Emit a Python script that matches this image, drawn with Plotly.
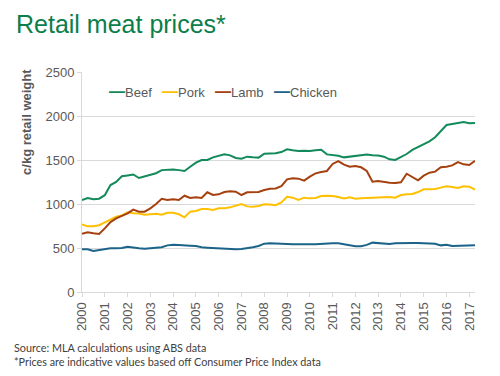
import plotly.graph_objects as go

# Quarterly observations, 2000 Q1 .. 2017 Q2
quarters = [2000 + i / 4 for i in range(70)]

beef = [1045, 1068, 1055, 1060, 1100, 1215, 1250, 1315, 1325, 1335, 1295, 1312,
        1325, 1350, 1385, 1390, 1392, 1385, 1375, 1424, 1470, 1500, 1500, 1530,
        1545, 1564, 1553, 1523, 1515, 1538, 1530, 1527, 1572, 1572, 1576, 1590,
        1621, 1610, 1602, 1606, 1602, 1610, 1617, 1564, 1557, 1549, 1530, 1538,
        1553, 1553, 1561, 1553, 1551, 1538, 1508, 1500, 1530, 1568, 1614, 1648,
        1678, 1712, 1758, 1822, 1898, 1909, 1924, 1932, 1917, 1920]

pork = [769, 746, 746, 759, 792, 826, 856, 871, 905, 894, 893, 879,
        883, 890, 879, 901, 901, 883, 849, 913, 920, 943, 943, 932,
        951, 951, 962, 985, 1000, 973, 970, 977, 996, 993, 987, 1018,
        1083, 1072, 1045, 1072, 1064, 1068, 1091, 1094, 1091, 1079, 1064, 1076,
        1060, 1064, 1068, 1072, 1080, 1080, 1080, 1072, 1102, 1110, 1114, 1136,
        1167, 1167, 1170, 1186, 1201, 1193, 1182, 1201, 1197, 1163]

lamb = [663, 678, 667, 659, 723, 795, 837, 863, 894, 936, 913, 913,
        951, 1000, 1060, 1045, 1053, 1045, 1094, 1068, 1076, 1068, 1133, 1102,
        1110, 1136, 1144, 1140, 1102, 1133, 1133, 1136, 1159, 1174, 1176, 1204,
        1280, 1292, 1288, 1265, 1311, 1348, 1363, 1375, 1455, 1488, 1447, 1424,
        1432, 1417, 1375, 1253, 1261, 1250, 1242, 1239, 1246, 1344, 1311, 1269,
        1322, 1356, 1368, 1417, 1424, 1439, 1477, 1451, 1443, 1492]

chicken = [485, 485, 466, 477, 492, 496, 496, 500, 515, 504, 496, 492,
           500, 504, 508, 530, 538, 534, 526, 526, 523, 508, 504, 500,
           496, 496, 485, 485, 489, 496, 508, 523, 549, 553, 549, 549,
           544, 542, 544, 540, 544, 544, 549, 553, 553, 553, 544, 535,
           519, 519, 535, 561, 558, 553, 545, 553, 557, 557, 557, 557,
           557, 553, 549, 530, 538, 523, 526, 530, 534, 530]

series_names = ["Beef", "Pork", "Lamb", "Chicken"]
series_values = [beef, pork, lamb, chicken]
series_colors = ["#138A5A", "#FFC000", "#A5400F", "#1C6389"]

year_ticks = list(range(2000, 2018))
year_labels = [str(y) for y in year_ticks]
y_ticks = [0, 500, 1000, 1500, 2000, 2500]

fig = go.Figure()
for name, vals, col in zip(series_names, series_values, series_colors):
    fig.add_trace(go.Scatter(x=quarters, y=vals, mode="lines", name=name,
                             line=dict(color=col, width=2), showlegend=False))

grey = "#595959"

# compact legend row (line swatch + label), laid out like the original
legend_x = [0.0635, 0.198, 0.333, 0.483]
annotations = []
for name, col, lx in zip(series_names, series_colors, legend_x):
    annotations.append(dict(
        text=f"<span style='color:{col};font-size:16px'><b>—</b></span>{name}",
        xref="paper", yref="paper", x=lx, y=0.911, xanchor="left", yanchor="middle",
        showarrow=False, font=dict(size=13, color=grey)))

annotations += [
    dict(text="<b>c/kg retail weight</b>", textangle=-90, xref="paper", yref="paper",
         x=-0.14, y=0.773, xanchor="center", yanchor="middle", showarrow=False,
         font=dict(size=13, color=grey)),
    dict(text="Source: MLA calculations using ABS data", xref="paper", yref="paper",
         x=-0.177, y=-0.2545, xanchor="left", yanchor="middle", showarrow=False,
         font=dict(family="Lato, Open Sans, sans-serif", size=10.8, color="#404040")),
    dict(text="*Prices are indicative values based off Consumer Price Index data",
         xref="paper", yref="paper",
         x=-0.177, y=-0.316, xanchor="left", yanchor="middle", showarrow=False,
         font=dict(family="Lato, Open Sans, sans-serif", size=10.8, color="#404040")),
]

fig.update_layout(
    width=500, height=376,
    margin=dict(l=82, r=25, t=72, b=84),
    paper_bgcolor="white", plot_bgcolor="white",
    font=dict(family="Liberation Sans, Arial, sans-serif", size=13, color=grey),
    title=dict(text="Retail meat prices*", font=dict(size=25, color="#0B7E4B"),
               x=0.032, xanchor="left", xref="container",
               y=0.96, yanchor="top", yref="container"),
    showlegend=False,
    xaxis=dict(range=[2000, 2017.25], tickmode="array", tickvals=year_ticks,
               ticktext=year_labels, tickangle=-90, showgrid=False,
               showline=True, linecolor="#D9D9D9", linewidth=1,
               ticks="outside", ticklen=4, tickcolor="#D9D9D9",
               tickfont=dict(size=13, color=grey), zeroline=False),
    yaxis=dict(range=[0, 2500], tickmode="array", tickvals=y_ticks,
               showgrid=True, gridcolor="#D9D9D9", gridwidth=1,
               showline=True, linecolor="#D9D9D9", linewidth=1,
               ticks="outside", ticklen=4, tickcolor="#D9D9D9",
               tickfont=dict(size=13, color=grey), zeroline=False),
    annotations=annotations,
)

fig.write_html("out.html", config={"displayModeBar": False},
               post_script="document.body.style.margin='0px';document.body.style.padding='0px';")
